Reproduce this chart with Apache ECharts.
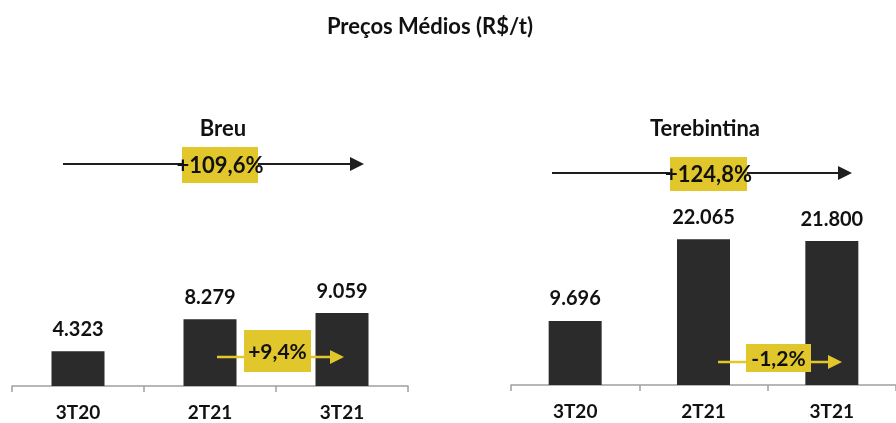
<!DOCTYPE html>
<html>
<head>
<meta charset="utf-8">
<script src="https://cdn.jsdelivr.net/npm/echarts@6/dist/echarts.min.js"></script>
<style>
  html, body { margin: 0; padding: 0; background: #ffffff; }
  #chart { width: 896px; height: 423px; }
</style>
</head>
<body>
<div id="chart"></div>
<script>
// Average prices (R$/t) by quarter
const categories = ['3T20', '2T21', '3T21'];
const breuValues = [4323, 8279, 9059];
const terebintinaValues = [9696, 22065, 21800];
const panelTitles = ['Breu', 'Terebintina'];
const yearChange = ['+109,6%', '+124,8%'];
const quarterChange = ['+9,4%', '-1,2%'];

const FONT = 'Lato, "Open Sans", sans-serif';
const BAR = '#2b2b2b';
const YELLOW = '#e1c72c';
const DARK = '#1e1e1e';

function fmt(v) {
  return v.toLocaleString('de-DE');
}

// Arrow with a highlighted percentage badge
function arrow(x1, x2, y, color, width) {
  return [
    { type: 'line', z: 100, shape: { x1: x1, y1: y, x2: x2 - 12, y2: y },
      style: { stroke: color, lineWidth: width } },
    { type: 'polygon', z: 100, shape: { points: [[x2 - 14, y - 7], [x2, y], [x2 - 14, y + 7]] },
      style: { fill: color } }
  ];
}
function badge(x, y, w, h, text, size) {
  return [
    { type: 'rect', z: 101, shape: { x: x, y: y, width: w, height: h }, style: { fill: YELLOW } },
    { type: 'text', z: 102, x: x + w / 2, y: y + h / 2 + 1,
      style: { text: text, fill: '#111', font: 'bold ' + size + 'px ' + FONT,
               align: 'center', verticalAlign: 'middle' } }
  ];
}

const labelStyle = {
  show: true, position: 'top', distance: 12,
  color: '#111', fontSize: 20, fontWeight: 'bold', fontFamily: FONT,
  formatter: p => fmt(p.value)
};

function xAxis(idx) {
  return {
    type: 'category', gridIndex: idx, data: categories,
    axisLine: { lineStyle: { color: '#a0a0a0', width: 1.5 } },
    axisTick: { show: true, length: 6, lineStyle: { color: '#a0a0a0', width: 1.5 } },
    axisLabel: { color: '#111', fontSize: 19, fontWeight: 'bold', fontFamily: FONT, margin: 17 }
  };
}

const headStyle = { fontSize: 22, fontWeight: 'bold', color: '#111', fontFamily: FONT };

const option = {
  backgroundColor: '#ffffff',
  animation: false,
  title: [
    { text: 'Preços Médios (R$/t)', left: 425, top: 11, textAlign: 'center', textStyle: headStyle },
    { text: panelTitles[0], left: 218, top: 113, textAlign: 'center', textStyle: headStyle },
    { text: panelTitles[1], left: 700, top: 113, textAlign: 'center', textStyle: headStyle }
  ],
  grid: [
    { left: 12, width: 396, top: 225, height: 161 },
    { left: 511, width: 396, top: 187, height: 198 }
  ],
  xAxis: [xAxis(0), xAxis(1)],
  yAxis: [
    { type: 'value', gridIndex: 0, min: 0, max: 20000, show: false, splitLine: { show: false } },
    { type: 'value', gridIndex: 1, min: 0, max: 30000, show: false, splitLine: { show: false } }
  ],
  series: [
    { type: 'bar', xAxisIndex: 0, yAxisIndex: 0, data: breuValues, barWidth: 53,
      itemStyle: { color: BAR }, label: labelStyle },
    { type: 'bar', xAxisIndex: 1, yAxisIndex: 1, data: terebintinaValues, barWidth: 53,
      itemStyle: { color: BAR }, label: labelStyle }
  ],
  graphic: [].concat(
    arrow(63, 364, 164, DARK, 2),
    badge(182, 147, 76, 36, yearChange[0], 22),
    arrow(552, 852, 173, DARK, 2),
    badge(670, 157, 77, 34, yearChange[1], 22),
    arrow(217, 344, 357, YELLOW, 2.5),
    badge(244, 330, 67, 42, quarterChange[0], 21),
    arrow(718, 842, 362, YELLOW, 2.5),
    badge(746, 344, 65, 28, quarterChange[1], 21)
  )
};

const chart = echarts.init(document.getElementById('chart'), null, { renderer: 'canvas' });
chart.setOption(option);
</script>
</body>
</html>
